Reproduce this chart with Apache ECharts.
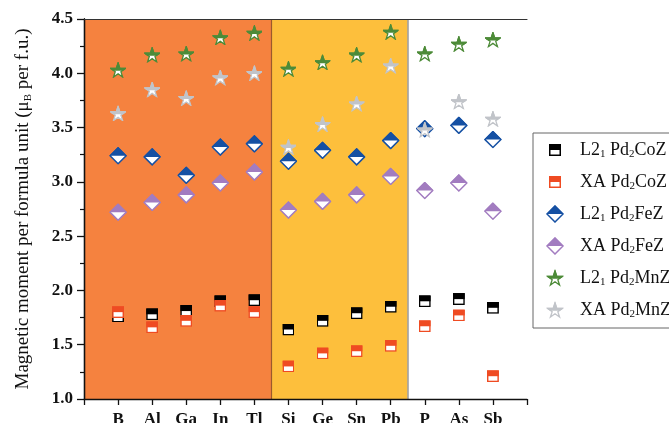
<!DOCTYPE html>
<html>
<head>
<meta charset="utf-8">
<script src="https://cdn.jsdelivr.net/npm/echarts@6.0.0/dist/echarts.min.js"></script>
<style>
  html, body { margin: 0; padding: 0; background: #fff; }
  #chart { width: 669px; height: 423px; }
</style>
</head>
<body>
<div id="chart"></div>
<script>
// elements Z (x axis)
var elems = ['B', 'Al', 'Ga', 'In', 'Tl', 'Si', 'Ge', 'Sn', 'Pb', 'P', 'As', 'Sb'];
var yTicks = [1.0, 1.5, 2.0, 2.5, 3.0, 3.5, 4.0, 4.5];

// magnetic moments (muB per f.u.)
var l21Co = [1.76, 1.78, 1.81, 1.90, 1.91, 1.64, 1.72, 1.79, 1.85, 1.90, 1.92, 1.84];
var xaCo  = [1.80, 1.66, 1.72, 1.86, 1.80, 1.30, 1.42, 1.44, 1.49, 1.67, 1.77, 1.21];
var l21Fe = [3.24, 3.23, 3.06, 3.32, 3.35, 3.19, 3.29, 3.23, 3.38, 3.49, 3.52, 3.39];
var xaFe  = [2.72, 2.81, 2.88, 2.99, 3.09, 2.74, 2.82, 2.88, 3.05, 2.92, 2.99, 2.73];
var l21Mn = [4.03, 4.17, 4.18, 4.33, 4.37, 4.04, 4.10, 4.17, 4.38, 4.18, 4.27, 4.31];
var xaMn  = [3.63, 3.85, 3.77, 3.96, 4.00, 3.32, 3.53, 3.72, 4.07, 3.48, 3.74, 3.58];

var SERIF = '"Liberation Serif", "DejaVu Serif", serif';

/**
 * half filled markers (top filled, bottom white) as svg images
 * box = canvas size, shape is centred in it
 */
function svgUrl(box, body) {
    return 'image://data:image/svg+xml;charset=utf-8,' + encodeURIComponent(
        "<svg xmlns='http://www.w3.org/2000/svg' width='" + box + "' height='" + box + "' viewBox='0 0 " + box + " " + box + "'>" + body + "</svg>");
}
function squareIcon(c, box) {
    var o = (box - 12) / 2;
    return svgUrl(box, "<g transform='translate(" + o + "," + o + ")'>" +
        "<rect x='0.75' y='0.75' width='10.5' height='10.5' fill='#fff' stroke='" + c + "' stroke-width='1.5'/>" +
        "<rect x='0' y='0' width='12' height='6' fill='" + c + "'/></g>");
}
function diamondIcon(c, box) {
    var o = (box - 18) / 2;
    return svgUrl(box, "<g transform='translate(" + o + "," + o + ")'>" +
        "<polygon points='9,1 17,9 9,17 1,9' fill='#fff' stroke='" + c + "' stroke-width='1.5'/>" +
        "<polygon points='9,0.3 17.7,9 0.3,9' fill='" + c + "'/></g>");
}
function starIcon(c, box) {
    var o = (box - 16) / 2;
    var pts = '8,1 9.75,6.39 15.42,6.39 10.83,9.72 12.59,15.11 8,11.78 3.41,15.11 5.17,9.72 0.58,6.39 6.25,6.39';
    return svgUrl(box, "<defs><clipPath id='h'><rect x='0' y='0' width='16' height='8.8'/></clipPath></defs>" +
        "<g transform='translate(" + o + "," + o + ")'>" +
        "<polygon points='" + pts + "' fill='#fff' stroke='" + c + "' stroke-width='1.3'/>" +
        "<polygon points='" + pts + "' fill='" + c + "' stroke='" + c + "' stroke-width='1.3' clip-path='url(#h)'/></g>");
}

var sets = [
    { name: 'L21 Pd2CoZ', label: '{n|L2}{s|1}{n| Pd}{s|2}{n|CoZ}', vals: l21Co, icon: squareIcon,  color: '#000000', size: 12 },
    { name: 'XA Pd2CoZ',  label: '{n|XA Pd}{s|2}{n|CoZ}',          vals: xaCo,  icon: squareIcon,  color: '#ef4b22', size: 12 },
    { name: 'L21 Pd2FeZ', label: '{n|L2}{s|1}{n| Pd}{s|2}{n|FeZ}', vals: l21Fe, icon: diamondIcon, color: '#1550a3', size: 18 },
    { name: 'XA Pd2FeZ',  label: '{n|XA Pd}{s|2}{n|FeZ}',          vals: xaFe,  icon: diamondIcon, color: '#a27cc0', size: 18 },
    { name: 'L21 Pd2MnZ', label: '{n|L2}{s|1}{n| Pd}{s|2}{n|MnZ}', vals: l21Mn, icon: starIcon,    color: '#4d8b38', size: 16 },
    { name: 'XA Pd2MnZ',  label: '{n|XA Pd}{s|2}{n|MnZ}',          vals: xaMn,  icon: starIcon,    color: '#c1c4c9', size: 16 }
];
var labelOf = {};
sets.forEach(function (s) { labelOf[s.name] = s.label; });

var series = [{
    // background bands + separators
    type: 'line', data: [], z: 1, silent: true,
    markArea: {
        silent: true,
        data: [
            [{ xAxis: 0, itemStyle: { color: '#f5823f' } }, { xAxis: 5.5 }],
            [{ xAxis: 5.5, itemStyle: { color: '#fdbf3c' } }, { xAxis: 9.5 }]
        ]
    },
    markLine: {
        silent: true, symbol: 'none', label: { show: false },
        data: [
            { xAxis: 5.5, lineStyle: { color: '#9c5a2c', width: 1.2, type: 'solid' } },
            { xAxis: 9.5, lineStyle: { color: '#9a9a9a', width: 1.5, type: 'solid' } }
        ]
    }
}];
sets.forEach(function (s) {
    series.push({
        name: s.name,
        type: 'scatter',
        z: 3,
        symbol: s.icon(s.color, s.size),
        symbolSize: s.size,
        itemStyle: { opacity: 1 },
        data: s.vals.map(function (v, i) { return [i + 1, v]; })
    });
});

var chart = echarts.init(document.getElementById('chart'), null, { renderer: 'canvas' });
chart.setOption({
    animation: false,
    backgroundColor: '#fff',
    grid: { left: 84, right: 142, top: 19, bottom: 24, containLabel: false, outerBoundsMode: 'none' },
    legend: {
        orient: 'vertical',
        left: 533, top: 133,
        itemWidth: 18, itemHeight: 18, itemGap: 13,
        padding: [8, 30, 8, 13],
        borderColor: '#666', borderWidth: 1,
        backgroundColor: '#fff',
        data: sets.map(function (s) { return { name: s.name, icon: s.icon(s.color, 18) }; }),
        formatter: function (name) { return labelOf[name]; },
        textStyle: {
            padding: [0, 0, 0, 11],
            rich: {
                n: { fontFamily: SERIF, fontSize: 18, color: '#111', lineHeight: 20 },
                s: { fontFamily: SERIF, fontSize: 11, color: '#111', lineHeight: 11, verticalAlign: 'bottom' }
            }
        }
    },
    xAxis: [{
        type: 'value', min: 0, max: 13, interval: 1, z: 5,
        axisLine: { show: true, lineStyle: { color: '#111', width: 1.3 } },
        axisTick: { show: true, inside: false, length: 6, lineStyle: { color: '#111', width: 1.3 } },
        splitLine: { show: false },
        axisLabel: {
            margin: 12, fontFamily: SERIF, fontSize: 17, fontWeight: 'bold', color: '#111',
            formatter: function (v) { return elems[v - 1] || ''; }
        }
    }, {
        type: 'value', min: 0, max: 13, position: 'top', z: 5,
        axisLine: { show: true, lineStyle: { color: '#333', width: 1.1 } },
        axisTick: { show: false }, axisLabel: { show: false }, splitLine: { show: false }
    }],
    yAxis: [{
        type: 'value', min: yTicks[0], max: yTicks[yTicks.length - 1], interval: 0.5, z: 5,
        axisLine: { show: true, lineStyle: { color: '#111', width: 1.3 } },
        axisTick: { show: true, inside: false, length: 7, lineStyle: { color: '#111', width: 1.3 } },
        minorTick: { show: true, splitNumber: 2, length: 4, lineStyle: { color: '#111', width: 1.2 } },
        splitLine: { show: false },
        axisLabel: {
            margin: 11, fontFamily: SERIF, fontSize: 17, fontWeight: 'bold', color: '#111',
            formatter: function (v) { return v.toFixed(1); }
        },
        name: '{t|Magnetic moment per formula unit (μ}{b|B}{t| per f.u.)}',
        nameLocation: 'middle', nameRotate: 90, nameGap: 50,
        nameTextStyle: {
            rich: {
                t: { fontFamily: SERIF, fontSize: 19, color: '#111', lineHeight: 22 },
                b: { fontFamily: SERIF, fontSize: 11, color: '#111', lineHeight: 11, verticalAlign: 'bottom' }
            }
        }
    }, {
        type: 'value', min: 1, max: 4.5, position: 'right', z: 5,
        axisLine: { show: true, lineStyle: { color: '#111', width: 1.3 } },
        axisTick: { show: false }, axisLabel: { show: false }, splitLine: { show: false }
    }],
    series: series
});
</script>
</body>
</html>
